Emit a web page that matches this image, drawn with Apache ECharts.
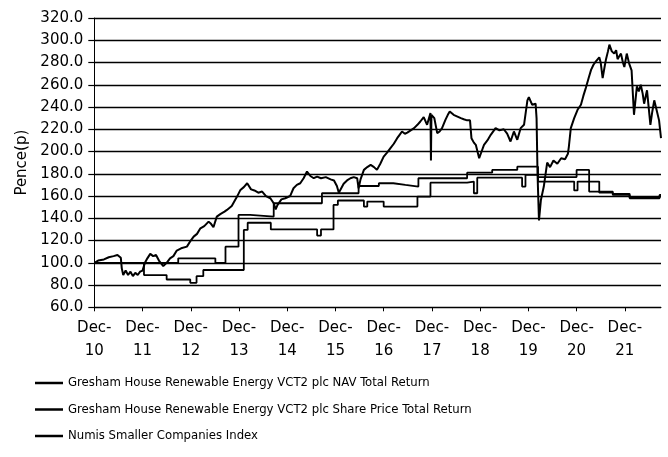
<!DOCTYPE html>
<html><head><meta charset="utf-8">
<script src="https://cdn.jsdelivr.net/npm/echarts@6/dist/echarts.min.js"></script>
<style>html,body{margin:0;padding:0;background:#fff}#c{width:668px;height:457px}</style>
</head><body><div id="c"></div>
<script>
// x is years since Dec-2010
const xTickYears = [0,1,2,3,4,5,6,7,8,9,10,11];
const xTickLabels = ['10','11','12','13','14','15','16','17','18','19','20','21'];
const seriesNames = [
  'Gresham House Renewable Energy VCT2 plc NAV Total Return',
  'Gresham House Renewable Energy VCT2 plc Share Price Total Return',
  'Numis Smaller Companies Index'
];
const navT = [0,1.74,2.51,2.72,2.99,3.23,3.72,4.72,5.48,5.9,6.2,6.45,6.72,7.73,8.25,8.77,9.2,10.0,10.26,10.75,11.1,11.72,11.75];
const navV = [100,104,100,114.5,143,141.5,153.5,162.5,169,171.5,170,168.5,176,181,183.5,186.4,177,183.5,164,162,158.5,161,161];
const shareT = [0,1.03,1.5,1.99,2.12,2.26,3.1,3.18,3.66,4.62,4.7,4.96,5.05,5.59,5.66,6.0,6.7,6.97,7.73,7.87,7.94,8.87,8.94,9.2,9.95,10.02,10.47,10.75,11.1,11.72,11.75];
const shareV = [100,89,85,82,88,93.5,129.5,136,130,124.5,130,152,156,150.5,155,150.5,159.5,172,173,162.5,176.5,168.5,179,173,165,173,163,161,158,160,160];
const numisT = [0,0.08,0.2,0.3,0.4,0.48,0.55,0.57,0.6,0.65,0.7,0.75,0.8,0.85,0.9,0.95,1.0,1.05,1.1,1.16,1.22,1.28,1.34,1.43,1.5,1.57,1.64,1.71,1.8,1.92,2.0,2.06,2.13,2.2,2.28,2.37,2.42,2.47,2.54,2.62,2.7,2.75,2.85,2.96,3.03,3.1,3.17,3.25,3.32,3.4,3.48,3.56,3.65,3.72,3.76,3.8,3.88,3.96,4.06,4.13,4.2,4.27,4.34,4.41,4.48,4.55,4.62,4.7,4.8,4.9,4.97,5.03,5.07,5.12,5.17,5.24,5.31,5.38,5.45,5.48,5.52,5.59,5.66,5.73,5.8,5.86,5.93,6.0,6.07,6.14,6.21,6.28,6.33,6.38,6.44,6.49,6.56,6.63,6.7,6.76,6.83,6.9,6.97,6.98,6.99,7.05,7.11,7.16,7.21,7.28,7.33,7.37,7.45,7.53,7.6,7.66,7.73,7.79,7.82,7.87,7.91,7.98,8.03,8.08,8.15,8.22,8.32,8.4,8.49,8.56,8.63,8.7,8.77,8.84,8.91,8.98,9.01,9.08,9.15,9.17,9.19,9.22,9.26,9.32,9.39,9.45,9.52,9.6,9.68,9.76,9.82,9.84,9.88,9.95,10.02,10.09,10.14,10.19,10.25,10.3,10.35,10.4,10.47,10.5,10.54,10.58,10.61,10.65,10.68,10.73,10.78,10.82,10.85,10.89,10.92,10.96,10.99,11.04,11.09,11.14,11.19,11.25,11.29,11.33,11.37,11.4,11.46,11.53,11.57,11.61,11.66,11.71,11.75];
const numisV = [100,102,103,105,106,107,104.5,95,89,93,89,92,88,91,89,92,93,100,104,108,106,107,102,97,100,104,106,111,113,114.5,120,123.5,126,131,133,137,135,132,141.5,144,146,147.5,151,159.5,165.5,168,171.5,166,165,163,164,160,158,153.5,148,152,157,158,160,167,170,171.5,176,182,178,176,177.5,176,177,175,174,169,163,167,171,174,176,177,176,167,175,183.5,186,188,186,183.5,189,195.4,199,203,207,212,215,218,216,217,219,221,224,227,231,224,234.5,192,233,230,216.5,218,221,228.4,233,236,233,231.4,230,229,228,228,212,208,206,194,200,206,210,215,221,219,220,216,209,218,210.5,221,224,246,248.8,242,243,230,180,138,156.5,168.5,190,186,192,189,194,193,198,204.5,221,230,237.5,242,250,257,266,273.4,278,281,284.6,280,266,276,283,290,296,290,288,291,283,286,288,280,276,288,279,273,233,258.5,254,260,252,243,255,224,236,246,237,228,212];

const zip = (t, v) => t.map((x, i) => [x, v[i]]);
const axisFont = 'DejaVu Sans';
const legendFont = '"Liberation Sans Narrow", "DejaVu Sans Condensed", sans-serif';

const chart = echarts.init(document.getElementById('c'), null, {renderer: 'canvas'});
chart.setOption({
  animation: false,
  backgroundColor: '#fff',
  grid: {left: 94.3, right: 7, top: 18, bottom: 149.7, containLabel: false},
  legend: {
    orient: 'vertical', left: 35, top: 376.5, itemGap: 13.5, padding: 0,
    itemWidth: 28, itemHeight: 2.5, icon: 'rect',
    textStyle: {fontFamily: legendFont, fontSize: 13, color: '#000'},
    data: seriesNames
  },
  xAxis: {
    type: 'value', min: 0, max: 11.75,
    axisLine: {show: true, onZero: false, lineStyle: {color: '#000', width: 1}},
    axisTick: {show: true, length: 4, inside: false, customValues: xTickYears, lineStyle: {color: '#000', width: 1}},
    axisLabel: {
      customValues: xTickYears, margin: 9,
      fontFamily: axisFont, fontSize: 15, color: '#000', lineHeight: 23,
      formatter: v => 'Dec-\n' + xTickLabels[Math.round(v)]
    },
    splitLine: {show: false}
  },
  yAxis: {
    type: 'value', min: 60, max: 320, interval: 20,
    name: 'Pence(p)', nameLocation: 'middle', nameGap: 54, nameRotate: 90,
    nameTextStyle: {fontFamily: axisFont, fontSize: 15, color: '#000'},
    axisLine: {show: true, lineStyle: {color: '#000', width: 1}},
    axisTick: {show: true, length: 6, lineStyle: {color: '#000', width: 1.2}},
    axisLabel: {fontFamily: axisFont, fontSize: 15, color: '#000', margin: 11,
      formatter: v => v.toFixed(1)},
    splitLine: {show: true, lineStyle: {color: '#000', width: 1.3}}
  },
  series: [
    {name: seriesNames[0], type: 'line', step: 'end', symbol: 'none', data: zip(navT, navV),
      lineStyle: {color: '#000', width: 1.8}, itemStyle: {color: '#000'}},
    {name: seriesNames[1], type: 'line', step: 'end', symbol: 'none', data: zip(shareT, shareV),
      lineStyle: {color: '#000', width: 1.8}, itemStyle: {color: '#000'}},
    {name: seriesNames[2], type: 'line', symbol: 'none', data: zip(numisT, numisV),
      lineStyle: {color: '#000', width: 2}, itemStyle: {color: '#000'}}
  ]
});
</script></body></html>
